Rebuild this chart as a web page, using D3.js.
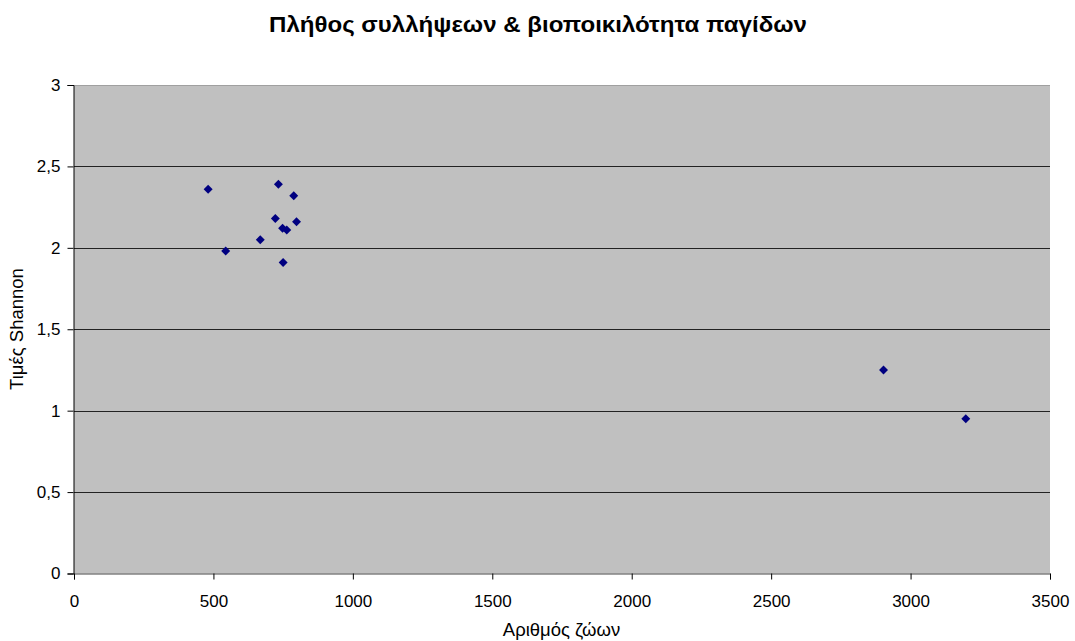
<!DOCTYPE html>
<html>
<head>
<meta charset="utf-8">
<script src="https://cdn.jsdelivr.net/npm/d3@7"></script>
<style>
  html, body { margin: 0; padding: 0; background: #fff; }
  svg { display: block; font-family: "Liberation Sans", Arial, sans-serif; }
</style>
</head>
<body>
<svg id="chart" width="1075" height="641"></svg>
<script>
// Number of captured animals per trap
const animals = [481, 544, 668, 722, 733, 748, 750, 763, 788, 798, 2903, 3198];
// Shannon diversity index per trap
const shannon = [2.36, 1.98, 2.05, 2.18, 2.39, 2.12, 1.91, 2.11, 2.32, 2.16, 1.25, 0.95];
const xTicks = [0, 500, 1000, 1500, 2000, 2500, 3000, 3500];
const yTicks = [0, 0.5, 1, 1.5, 2, 2.5, 3];

const title = "Πλήθος συλλήψεων & βιοποικιλότητα παγίδων";
const xTitle = "Αριθμός ζώων";
const yTitle = "Τιμές Shannon";

const svg = d3.select("#chart");
const plotL = 74, plotR = 1050, plotT = 85, plotB = 573.5;

const x = d3.scaleLinear().domain([0, 3500]).range([plotL, plotR]);
const y = d3.scaleLinear().domain([0, 3]).range([plotB, plotT]);

const fmt = d => String(d).replace(".", ",");

// plot background
svg.append("rect")
  .attr("x", plotL).attr("y", plotT)
  .attr("width", plotR - plotL).attr("height", plotB - plotT)
  .attr("fill", "#c0c0c0");

// horizontal gridlines
svg.append("g")
  .selectAll("line")
  .data(yTicks.filter(d => d > 0 && d < 3))
  .join("line")
  .attr("x1", plotL).attr("x2", plotR)
  .attr("y1", d => Math.round(y(d)) + 0.5).attr("y2", d => Math.round(y(d)) + 0.5)
  .attr("stroke", "#222").attr("stroke-width", 1);

// top frame line
svg.append("line")
  .attr("x1", plotL).attr("x2", plotR)
  .attr("y1", plotT + 0.5).attr("y2", plotT + 0.5)
  .attr("stroke", "#a0a0a0");

// y axis
const yAxis = d3.axisLeft(y).tickValues(yTicks).tickFormat(fmt).tickSize(6).tickPadding(7);
const gy = svg.append("g").attr("transform", `translate(${plotL - 0.5},0)`).call(yAxis);
gy.select(".domain").attr("stroke", "#000");
gy.selectAll(".tick line").attr("stroke", "#000");
gy.selectAll(".tick text")
  .attr("font-size", 17).attr("fill", "#000")
  .attr("font-family", "'Liberation Sans', Arial, sans-serif");

// x axis
const xAxis = d3.axisBottom(x).tickValues(xTicks).tickFormat(d => d).tickSize(6).tickPadding(15);
const gx = svg.append("g").attr("transform", `translate(0,${Math.round(plotB) - 0.5})`).call(xAxis);
gx.select(".domain").attr("stroke", "#444");
gx.selectAll(".tick line").attr("stroke", "#000");
gx.selectAll(".tick text")
  .attr("font-size", 17).attr("fill", "#000")
  .attr("font-family", "'Liberation Sans', Arial, sans-serif");

// data points as diamonds
const diamond = d3.symbol().type(d3.symbolSquare).size(40);
svg.append("g")
  .selectAll("path")
  .data(animals.map((a, i) => [a, shannon[i]]))
  .join("path")
  .attr("d", diamond)
  .attr("transform", d => `translate(${x(d[0])},${y(d[1])}) rotate(45)`)
  .attr("fill", "#000080");

// titles
svg.append("text")
  .attr("x", 538).attr("y", 32)
  .attr("text-anchor", "middle")
  .attr("font-size", 21.5).attr("font-weight", "bold")
  .attr("textLength", 538).attr("lengthAdjust", "spacingAndGlyphs")
  .text(title);

svg.append("text")
  .attr("x", 561.5).attr("y", 636)
  .attr("text-anchor", "middle")
  .attr("font-size", 18.5)
  .text(xTitle);

svg.append("text")
  .attr("transform", `translate(23,329) rotate(-90)`)
  .attr("text-anchor", "middle")
  .attr("font-size", 18.5)
  .text(yTitle);
</script>
</body>
</html>
